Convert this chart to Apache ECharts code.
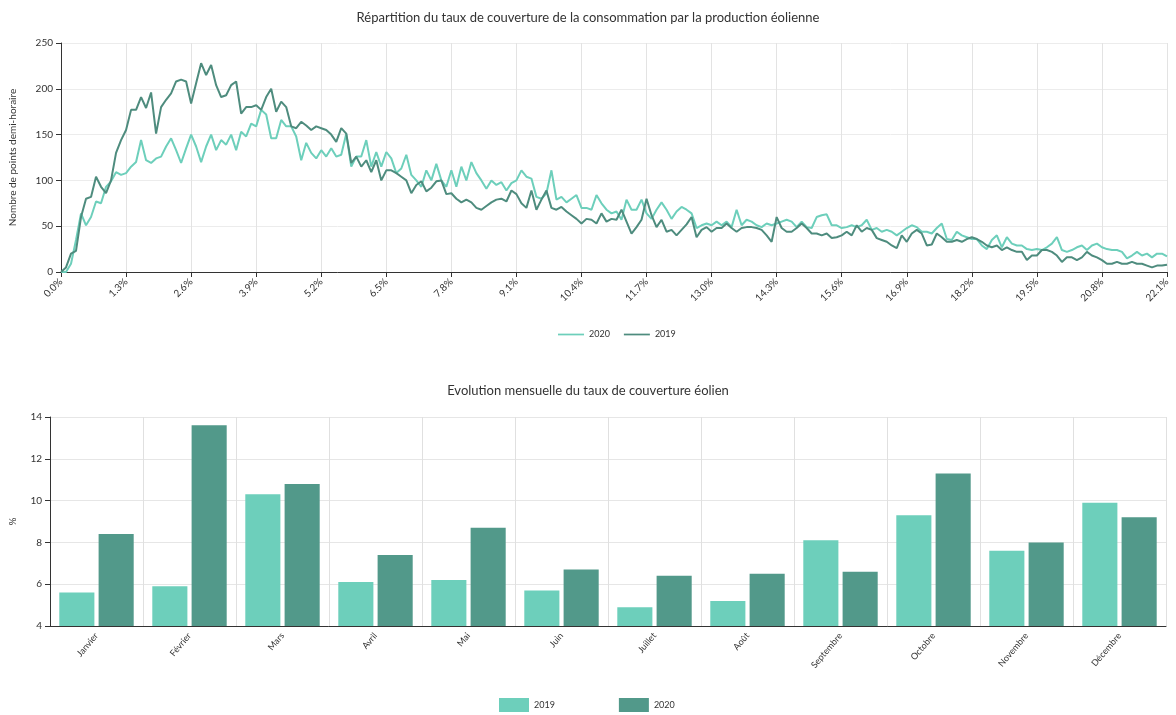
<!DOCTYPE html>
<html>
<head>
<meta charset="utf-8">
<script src="https://cdn.jsdelivr.net/npm/echarts@6/dist/echarts.min.js"></script>
<style>
html,body{margin:0;padding:0;background:#fff;}
#top{position:absolute;left:0;top:0;width:1176px;height:360px;}
#bottom{position:absolute;left:0;top:360px;width:1176px;height:355px;}
</style>
</head>
<body>
<div id="top"></div>
<div id="bottom"></div>
<script>
// ---- Top chart data: coverage rate distribution (step 0.1%) ----
var pctStart = 0.0, pctStep = 0.1, pctCount = 222;
var series2020 = [
0,0,9,35,64,51,60,77,75,93,
99,109,106,108,115,120,144,122,119,124,
126,137,146,133,119,135,150,137,120,137,
150,133,144,139,150,133,153,148,162,159,
177,172,146,146,166,159,159,148,122,141,
130,124,133,126,135,126,128,151,115,126,
126,144,115,131,115,131,124,108,113,128,
106,100,93,111,100,118,100,93,111,93,
115,100,120,108,100,91,100,95,98,89,
97,100,111,104,102,82,80,86,111,79,
82,76,80,84,70,70,68,84,75,68,
64,66,57,79,68,68,79,64,58,68,
76,68,58,66,71,68,64,48,51,53,
51,55,51,55,49,68,51,57,55,51,
49,53,51,53,55,57,55,49,55,49,
48,60,62,63,51,51,48,49,51,49,
51,57,46,48,44,46,44,40,44,48,
51,49,44,44,42,48,53,36,35,44,
40,38,36,36,29,25,35,40,27,38,
31,29,29,25,24,25,24,27,31,38,
24,22,24,27,29,24,29,31,27,25,
24,24,22,15,18,22,18,20,16,20,
20,17
];
var series2019 = [
0,5,20,23,60,80,82,104,93,86,
100,130,144,155,177,177,191,179,196,151,
180,188,195,208,210,208,184,206,228,215,
226,204,191,193,204,208,173,180,180,182,
177,191,200,175,186,180,159,157,164,160,
155,159,157,155,150,142,157,151,119,126,
115,122,109,122,100,111,111,108,104,100,
86,95,99,88,92,99,100,85,86,80,
76,79,76,70,68,72,76,79,80,77,
89,85,75,70,89,68,79,89,70,68,
71,66,62,58,53,58,57,53,64,55,
58,57,68,55,42,49,57,80,62,49,
57,44,46,40,46,52,60,38,46,49,
44,48,48,53,48,44,48,49,49,48,
46,40,33,60,48,44,44,48,53,48,
42,42,40,42,37,38,40,44,40,51,
44,48,46,37,35,33,29,26,40,33,
42,46,42,29,30,42,38,33,33,35,
33,36,38,36,33,29,27,29,24,27,
24,22,22,13,18,18,24,24,22,18,
11,16,16,13,16,22,18,16,13,9,
9,11,9,9,11,9,9,7,5,7,
7,8
];
var pctCategories = [];
for (var i = 0; i < pctCount; i++) { pctCategories.push((pctStart + i * pctStep).toFixed(1) + '%'); }

// ---- Bottom chart data: monthly wind coverage rate ----
var months = ['Janvier','Février','Mars','Avril','Mai','Juin','Juillet','Août','Septembre','Octobre','Novembre','Décembre'];
var monthly2019 = [5.6, 5.9, 10.3, 6.1, 6.2, 5.7, 4.9, 5.2, 8.1, 9.3, 7.6, 9.9];
var monthly2020 = [8.4, 13.6, 10.8, 7.4, 8.7, 6.7, 6.4, 6.5, 6.6, 11.3, 8.0, 9.2];

var LIGHT = '#6dcfbb';
var DARK = '#52998a';
var DARKLINE = '#4e8c7e';
var FONT = 'Lato, "Open Sans", sans-serif';

var topChart = echarts.init(document.getElementById('top'), null, {renderer: 'canvas'});
topChart.setOption({
  animation: false,
  textStyle: {fontFamily: FONT, color: '#333'},
  title: {
    text: 'Répartition du taux de couverture de la consommation par la production éolienne',
    left: 'center', top: 6,
    textStyle: {fontSize: 13, fontWeight: 'normal', color: '#333', fontFamily: FONT}
  },
  legend: {
    top: 325, left: 553,
    data: ['2020', '2019'],
    icon: 'path://M0,0H30V2H0Z',
    itemWidth: 26, itemHeight: 2, itemGap: 14,
    textStyle: {fontSize: 9, color: '#333', fontFamily: FONT}
  },
  grid: {left: 61, right: 9, top: 43, bottom: 88},
  xAxis: {
    type: 'category', boundaryGap: false, data: pctCategories,
    axisLine: {lineStyle: {color: '#333', width: 1}},
    axisTick: {interval: 12, lineStyle: {color: '#333'}},
    axisLabel: {interval: 12, rotate: 45, fontSize: 10, color: '#333', margin: 8},
    splitLine: {show: true, interval: 12, lineStyle: {color: '#e3e3e3'}}
  },
  yAxis: {
    type: 'value', min: 0, max: 250, interval: 50,
    name: 'Nombre de points demi-horaire', nameLocation: 'middle', nameGap: 43,
    nameTextStyle: {fontSize: 10, color: '#333'},
    axisLine: {show: true, lineStyle: {color: '#333'}},
    axisTick: {show: true, lineStyle: {color: '#333'}},
    axisLabel: {fontSize: 10, color: '#333'},
    splitLine: {lineStyle: {color: '#ececec'}}
  },
  series: [
    {name: '2020', type: 'line', data: series2020, showSymbol: false, color: LIGHT,
     lineStyle: {width: 2, color: LIGHT}},
    {name: '2019', type: 'line', data: series2019, showSymbol: false, color: DARKLINE,
     lineStyle: {width: 2, color: DARKLINE}}
  ]
});

var bottomChart = echarts.init(document.getElementById('bottom'), null, {renderer: 'canvas'});
bottomChart.setOption({
  animation: false,
  textStyle: {fontFamily: FONT, color: '#333'},
  title: {
    text: 'Evolution mensuelle du taux de couverture éolien',
    left: 'center', top: 19,
    textStyle: {fontSize: 13, fontWeight: 'normal', color: '#333', fontFamily: FONT}
  },
  legend: {
    top: 333, left: 494,
    data: ['2019', '2020'],
    icon: 'rect', itemWidth: 30, itemHeight: 14, itemGap: 64,
    textStyle: {fontSize: 9, color: '#333', fontFamily: FONT}
  },
  grid: {left: 50, right: 10, top: 57, bottom: 89},
  xAxis: {
    type: 'category', data: months,
    axisLine: {lineStyle: {color: '#333'}},
    axisTick: {alignWithLabel: true, lineStyle: {color: '#333'}},
    axisLabel: {rotate: 50, fontSize: 9, color: '#333', margin: 8, interval: 0},
    splitLine: {show: true, lineStyle: {color: '#e0e0e0'}}
  },
  yAxis: {
    type: 'value', min: 4, max: 14, interval: 2,
    name: '%', nameLocation: 'middle', nameGap: 32,
    nameTextStyle: {fontSize: 10, color: '#333'},
    axisLine: {show: true, lineStyle: {color: '#333'}},
    axisTick: {show: true, lineStyle: {color: '#333'}},
    axisLabel: {fontSize: 10, color: '#333'},
    splitLine: {lineStyle: {color: '#e6e6e6'}}
  },
  series: [
    {name: '2019', type: 'bar', data: monthly2019, color: LIGHT, barGap: '12%', barCategoryGap: '20%'},
    {name: '2020', type: 'bar', data: monthly2020, color: DARK, barGap: '12%', barCategoryGap: '20%'}
  ]
});
</script>
</body>
</html>
